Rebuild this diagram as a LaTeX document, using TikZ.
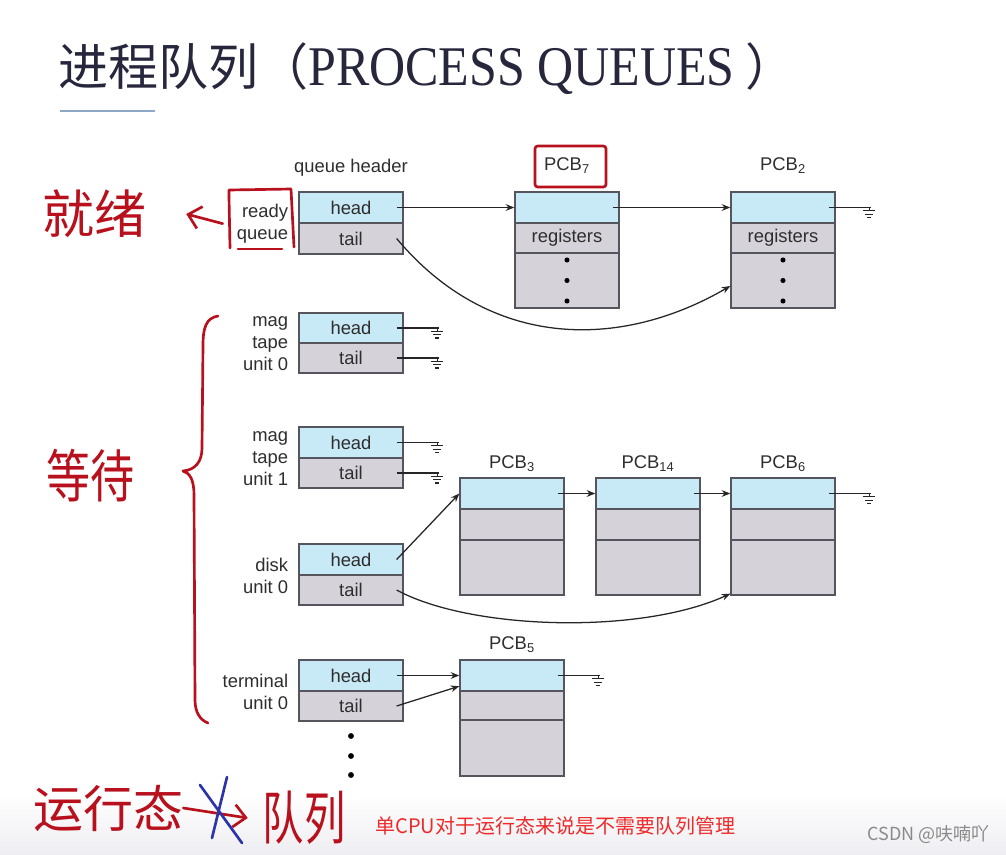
\documentclass[tikz,border=0pt]{standalone}
\usepackage{fontspec}
\setmainfont{Liberation Sans}
\newfontfamily\cjk{Noto Sans CJK SC}
\newfontfamily\serifT{Liberation Serif}
\usetikzlibrary{arrows.meta}
\definecolor{bluec}{HTML}{C8E9F6}
\definecolor{grayc}{HTML}{D5D2D9}
\definecolor{bordc}{HTML}{55555D}
\definecolor{txtc}{HTML}{2E2E2E}
\definecolor{wirec}{HTML}{262626}
\definecolor{penred}{HTML}{B8101C}
\definecolor{penblue}{HTML}{2B35A8}
\definecolor{notered}{HTML}{EE2A2A}
\definecolor{titlec}{HTML}{26263C}
\definecolor{ulinec}{HTML}{8EA7C6}
\definecolor{wmark}{HTML}{8A8A8A}
\definecolor{bgbot}{HTML}{EEEDF1}
\tikzset{
  fs/.style={font=\fontsize{13.8pt}{16.5pt}\selectfont},
  cell/.style={draw=bordc, line width=0.95pt, minimum width=78pt, minimum height={#1*0.75pt}, inner sep=0pt, fs, text=txtc},
  bcell/.style={cell=#1, fill=bluec},
  gcell/.style={cell=#1, fill=grayc},
  lab/.style={fs, text=txtc, align=right, inner sep=0pt, anchor=east},
  pcbl/.style={fs, text=txtc, inner sep=0pt},
  wire/.style={draw=wirec, line width=0.95pt},
  arr/.style={wire, -{Stealth[length=6.5pt,width=5pt]}},
  pen/.style={draw=penred, line width=2pt, line cap=round, line join=round},
  penarr/.style={pen, -{Straight Barb[length=9pt,width=17pt]}},
  hand/.style={text=penred, inner sep=0pt, font=\cjk\fontsize{#1}{#1}\selectfont},
  gnd/.pic={\draw[wire] (-1pt,0) -- (-1pt,-2.5pt) (-5.5pt,-2.5pt) -- (3.5pt,-2.5pt) (-4pt,-5pt) -- (2pt,-5pt) (-2.5pt,-7.5pt) -- (0.5pt,-7.5pt);}
}
\newcommand\groundat[1]{\draw[wire] ([xshift=-5.25pt]#1.east) -- ++(31.5pt,0) pic {gnd};}
\begin{document}
\begin{tikzpicture}[x=0.75pt,y=-0.75pt]
\useasboundingbox (0,0) rectangle (1006,854);
\fill[white] (0,0) rectangle (1006,854);
\shade[top color=white, bottom color=bgbot] (0,795) rectangle (1006,854);

% title
\node[anchor=west, inner sep=0pt, text=titlec] (title) at (58,69)
  {\cjk\fontsize{37.5pt}{40pt}\selectfont 进程队列（\serifT\scalebox{1}[1.12]{PROCESS QUEUES}\cjk\ ）};
\draw[ulinec, line width=2.2pt] (60,111) -- (155,111);

% ready queue header
\node[pcbl] (qh) at (351,168) {queue header};
\node[bcell=31] (rqh) at (351,207.5) {head};
\node[gcell=31] (rqt) at (351,238.5) {tail};
\node[lab] (lready) at ([xshift=-7.5pt]rqh.south west) {ready\\queue};

% PCB7 and PCB2
\node[bcell=31] (p7a) at (567,207.5) {};
\node[gcell=30] (p7b) at (567,238) {registers};
\node[gcell=55] (p7c) at (567,280.5) {};
\node[pcbl] (l7) at (567,166) {PCB\textsubscript{7}};
\node[bcell=31] (p2a) at (783,207.5) {};
\node[gcell=30] (p2b) at (783,238) {registers};
\node[gcell=55] (p2c) at (783,280.5) {};
\node[pcbl] (l2) at (783,166) {PCB\textsubscript{2}};
\foreach \xx in {567,783}{
  \fill[black] (\xx,260) circle (1.9pt) (\xx,280.5) circle (1.9pt) (\xx,301) circle (1.9pt);
}

% mag tape unit 0
\node[bcell=30] (m0h) at (351,328) {head};
\node[gcell=30] (m0t) at (351,358) {tail};
\node[lab] (lm0) at ([xshift=-7.5pt]m0h.south west) {mag\\tape\\unit 0};
% mag tape unit 1
\node[bcell=31] (m1h) at (351,442.5) {head};
\node[gcell=30] (m1t) at (351,473) {tail};
\node[lab] (lm1) at ([xshift=-7.5pt]m1h.south west) {mag\\tape\\unit 1};
% disk unit 0
\node[bcell=31] (dh) at (351,559.5) {head};
\node[gcell=30] (dt) at (351,590) {tail};
\node[lab] (ld) at ([xshift=-7.5pt]dh.south west) {disk\\unit 0};
% terminal unit 0
\node[bcell=31] (th) at (351,675.5) {head};
\node[gcell=30] (tt) at (351,706) {tail};
\node[lab] (lt) at ([xshift=-7.5pt]th.south west) {terminal\\unit 0};
\foreach \yy in {736,756,775}{ \fill[black] (351,\yy) circle (2.2pt); }

% PCB3, PCB14, PCB6
\node[bcell=31] (p3a) at (512,493.5) {};
\node[gcell=31] (p3b) at (512,524.5) {};
\node[gcell=55] (p3c) at (512,567.5) {};
\node[pcbl] (l3) at (512,464) {PCB\textsubscript{3}};
\node[bcell=31] (p14a) at (648,493.5) {};
\node[gcell=31] (p14b) at (648,524.5) {};
\node[gcell=55] (p14c) at (648,567.5) {};
\node[pcbl] (l14) at (648,464) {PCB\textsubscript{14}};
\node[bcell=31] (p6a) at (783,493.5) {};
\node[gcell=31] (p6b) at (783,524.5) {};
\node[gcell=55] (p6c) at (783,567.5) {};
\node[pcbl] (l6) at (783,464) {PCB\textsubscript{6}};
% PCB5
\node[bcell=31] (p5a) at (512,675.5) {};
\node[gcell=29] (p5b) at (512,705.5) {};
\node[gcell=56] (p5c) at (512,748) {};
\node[pcbl] (l5) at (512,645) {PCB\textsubscript{5}};

% connectors
\draw[arr] ([xshift=-5.25pt]rqh.east) -- (p7a.west);
\draw[arr] ([xshift=-5.25pt]p7a.east) -- (p2a.west);
\draw[arr] ([xshift=-5.25pt]rqt.east) .. controls (490,350) and (620,350) .. ([yshift=-4.1pt]p2c.west);
\groundat{p2a}
\groundat{m0h}
\groundat{m0t}
\groundat{m1h}
\groundat{m1t}
\draw[arr] ([xshift=-5.25pt]dh.east) -- (p3a.west);
\draw[arr] ([xshift=-5.25pt]p3a.east) -- (p14a.west);
\draw[arr] ([xshift=-5.25pt]p14a.east) -- (p6a.west);
\groundat{p6a}
\draw[arr] ([xshift=-5.25pt]dt.east) .. controls (470,630) and (640,635) .. ([yshift=1.5pt]p6c.south west);
\draw[arr] ([xshift=-5.25pt]th.east) -- (p5a.west);
\draw[arr] ([xshift=-5.25pt]tt.east) -- ([yshift=-8pt]p5a.west);
\groundat{p5a}

% handwritten annotations
\node[hand=39pt] (jiuxu) at (94,214) {就绪};
\draw[penarr] ([xshift=-10.5pt]lready.west) -- ([xshift=30pt]jiuxu.east);
\draw[pen] (229,197) -- (229,190) -- (291,189) -- (294,247);
\draw[pen] (229,197) -- (230,248);
\draw[pen] (238,249) -- (282,249);
\draw[pen, rounded corners=2pt] (535,146) rectangle (606,187);
\draw[pen] (218,316) .. controls (206,318) and (203,328) .. (203,345) -- (202,448)
  .. controls (202,462) and (195,470) .. (183,471)
  .. controls (190,473) and (194,480) .. (194,495) -- (195,700)
  .. controls (195,712) and (200,720) .. (208,723);
\node[hand=33pt] (dengdai) at (90,476) {\scalebox{1}[1.3]{等待}};
\node[hand=37.5pt] (yxt) at (108,808) {运行态};
\node[hand=31pt] (dl) at (304,818) {\scalebox{1}[1.4]{队列}};
\draw[penarr] (yxt.east) -- ([xshift=-11pt]dl.west);
\draw[pen, draw=penblue] (200,785) -- (242,843) (227,777) -- (212,838);

% typed notes
\node[anchor=west, inner sep=0pt, text=notered, font=\cjk\fontsize{15pt}{18pt}\selectfont] (note) at (375,826) {单CPU对于运行态来说是不需要队列管理};
\node[anchor=east, inner sep=0pt, text=wmark, font=\cjk\fontsize{13.5pt}{16pt}\selectfont] (wm) at (990,834) {CSDN @呋喃吖};
\end{tikzpicture}
\end{document}
